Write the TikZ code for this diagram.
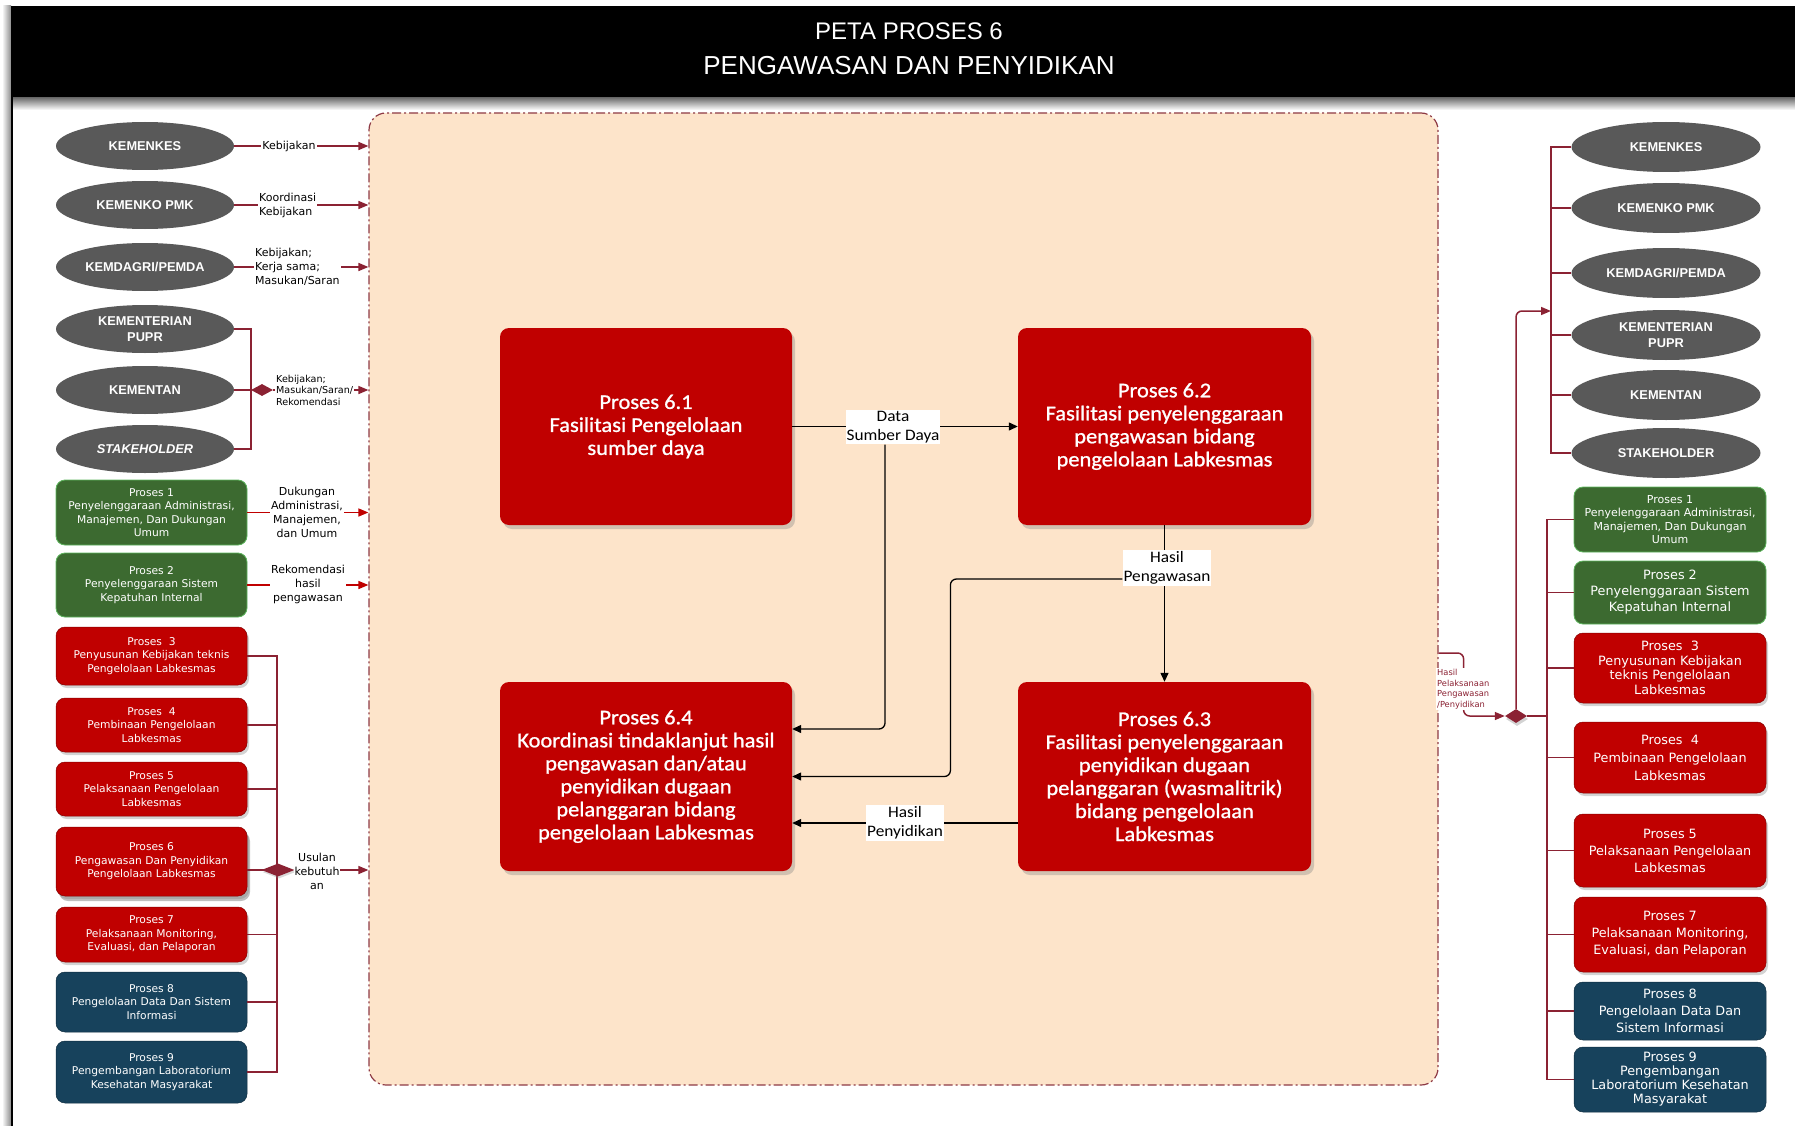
\documentclass[tikz,border=0pt]{standalone}
\usepackage{fontspec}
\setmainfont{Liberation Sans}
\newfontfamily\dejafont{DejaVu Sans}
\newfontfamily\calfont[FakeStretch=1.08]{Carlito}
\newfontfamily\calboxfont[FakeStretch=1.07,FakeBold=1]{Carlito}
\usetikzlibrary{shapes.geometric,arrows.meta,shadows}

\definecolor{panelfill}{HTML}{FDE4CA}
\definecolor{panelline}{HTML}{8E3A45}
\definecolor{linkred}{HTML}{8B2233}
\definecolor{procred}{HTML}{C00000}
\definecolor{procgreen}{HTML}{3C6A30}
\definecolor{greenedge}{HTML}{5DB55D}
\definecolor{procblue}{HTML}{17425C}
\definecolor{ellgray}{HTML}{595959}

\tikzset{
  ext/.style={ellipse, fill=ellgray, text=white, minimum width=178pt, minimum height=48pt,
    inner sep=0pt, align=center, font=\bfseries\fontsize{12.8}{16}\selectfont},
  extr/.style={ext, minimum width=189pt, minimum height=50pt},
  pbox/.style={rounded corners=9pt, inner sep=1pt, align=center, text=white},
  lbox/.style={pbox, minimum width=191pt, font=\dejafont\fontsize{10.7}{13.5}\selectfont},
  rbox/.style={pbox, minimum width=192pt, font=\dejafont\fontsize{12.8}{17}\selectfont},
  gbox/.style={fill=procgreen, draw=greenedge, line width=0.8pt},
  rdbox/.style={fill=procred, draw=procred!70!black, line width=0.5pt,
    drop shadow={shadow xshift=2pt, shadow yshift=-3pt, opacity=0.35}},
  blbox/.style={fill=procblue, draw=procblue!70!black, line width=0.5pt},
  cbox/.style={rounded corners=9pt, fill=procred, text=white, align=center,
    minimum width=292pt, inner sep=2pt, font=\calboxfont\fontsize{21}{23}\selectfont,
    drop shadow={shadow xshift=3pt, shadow yshift=-4pt, opacity=0.35}},
  lab/.style={font=\dejafont\fontsize{11}{14}\selectfont, align=center, fill=white, inner sep=1pt},
  clab/.style={font=\calfont\fontsize{16}{19}\selectfont, align=center, fill=white,
    inner xsep=1pt, inner ysep=1.5pt},
  flow/.style={draw=black, line width=1.3pt, -{Triangle[length=9pt,width=8pt]}},
  marr/.style={draw=linkred, line width=1.5pt, -{Triangle[length=10pt,width=8pt]}},
  rarr/.style={draw=procred, line width=1.5pt, -{Triangle[length=10pt,width=8pt]}},
  mline/.style={draw=linkred, line width=1.5pt},
  joint/.style={diamond, fill=linkred, inner sep=0pt, minimum width=22pt, minimum height=12pt},
}

\begin{document}
\begin{tikzpicture}[x=1pt,y=-1pt]
\useasboundingbox (0,0) rectangle (1795,1126);

% header bar with its shadow and the left page rule
\shade[left color=white, right color=black!45] (2,6) rectangle (11,1126);
\shade[top color=black!60, bottom color=white] (11,97) rectangle (1795,110);
\fill[black] (11,6) rectangle (1795,97);
\draw[black, line width=1.5pt] (12,97) -- (12,1126);
\node[text=white, font=\fontsize{24}{28}\selectfont] (t1) at (909,31) {PETA PROSES 6};
\node[text=white, font=\fontsize{26}{30}\selectfont] (t2) at (909,66) {PENGAWASAN DAN PENYIDIKAN};

% process container
\node[draw=panelline, fill=panelfill, line width=1.2pt,
  dash pattern=on 9pt off 3pt on 2pt off 3pt, rounded corners=17pt,
  minimum width=1069pt, minimum height=972pt, inner sep=0pt] (panel) at (903.5,599) {};

% sub-processes
\node[cbox, minimum height=197pt] (b61) at (646,426.5)
  {Proses 6.1\\Fasilitasi Pengelolaan\\sumber daya};
\node[cbox, minimum height=197pt, minimum width=293pt] (b62) at (1164.5,426.5)
  {Proses 6.2\\Fasilitasi penyelenggaraan\\pengawasan bidang\\pengelolaan Labkesmas};
\node[cbox, minimum height=189pt] (b64) at (646,776.5)
  {Proses 6.4\\Koordinasi tindaklanjut hasil\\pengawasan dan/atau\\penyidikan dugaan\\pelanggaran bidang\\pengelolaan Labkesmas};
\node[cbox, minimum height=189pt, minimum width=293pt] (b63) at (1164.5,776.5)
  {Proses 6.3\\Fasilitasi penyelenggaraan\\penyidikan dugaan\\pelanggaran (wasmalitrik)\\bidang pengelolaan\\Labkesmas};

% left: external parties
\node[ext] (ke1) at (145,146) {KEMENKES};
\node[ext] (ke2) at (145,205) {KEMENKO PMK};
\node[ext] (ke3) at (145,267) {KEMDAGRI/PEMDA};
\node[ext] (ke4) at (145,329) {KEMENTERIAN\\PUPR};
\node[ext] (ke5) at (145,390) {KEMENTAN};
\node[ext] (ke6) at (145,449) {\textit{STAKEHOLDER}};

% left: other processes
\node[lbox, gbox, minimum height=65pt] (p1) at (151.5,512.5)
  {Proses 1\\Penyelenggaraan Administrasi,\\Manajemen, Dan Dukungan\\Umum};
\node[lbox, gbox, minimum height=64pt] (p2) at (151.5,585)
  {Proses 2\\Penyelenggaraan Sistem\\Kepatuhan Internal};
\node[lbox, rdbox, minimum height=58pt] (p3) at (151.5,656)
  {Proses \ 3\\Penyusunan Kebijakan teknis\\Pengelolaan Labkesmas};
\node[lbox, rdbox, minimum height=54pt] (p4) at (151.5,725)
  {Proses \ 4\\Pembinaan Pengelolaan\\Labkesmas};
\node[lbox, rdbox, minimum height=54pt] (p5) at (151.5,789)
  {Proses 5\\Pelaksanaan Pengelolaan\\Labkesmas};
\node[lbox, rdbox, minimum height=69pt,
  drop shadow={shadow xshift=3pt, shadow yshift=-5pt, opacity=0.5}] (p6) at (151.5,861.5)
  {Proses 6\\Pengawasan Dan Penyidikan\\Pengelolaan Labkesmas};
\node[lbox, rdbox, minimum height=55pt] (p7) at (151.5,934.5)
  {Proses 7\\Pelaksanaan Monitoring,\\Evaluasi, dan Pelaporan};
\node[lbox, blbox, minimum height=60pt] (p8) at (151.5,1002)
  {Proses 8\\Pengelolaan Data Dan Sistem\\Informasi};
\node[lbox, blbox, minimum height=62pt] (p9) at (151.5,1072)
  {Proses 9\\Pengembangan Laboratorium\\Kesehatan Masyarakat};

% right: external parties
\node[extr] (re1) at (1666,147) {KEMENKES};
\node[extr] (re2) at (1666,208) {KEMENKO PMK};
\node[extr] (re3) at (1666,273) {KEMDAGRI/PEMDA};
\node[extr] (re4) at (1666,335) {KEMENTERIAN\\PUPR};
\node[extr] (re5) at (1666,395) {KEMENTAN};
\node[extr] (re6) at (1666,453) {STAKEHOLDER};

% right: other processes
\node[rbox, gbox, minimum height=65pt, font=\dejafont\fontsize{11}{13.5}\selectfont] (rp1) at (1670,519.5)
  {Proses 1\\Penyelenggaraan Administrasi,\\Manajemen, Dan Dukungan\\Umum};
\node[rbox, gbox, minimum height=63pt, font=\dejafont\fontsize{12.8}{16}\selectfont] (rp2) at (1670,592.5)
  {Proses 2\\Penyelenggaraan Sistem\\Kepatuhan Internal};
\node[rbox, rdbox, minimum height=70pt, font=\dejafont\fontsize{12.8}{14.5}\selectfont] (rp3) at (1670,668)
  {Proses \ 3\\Penyusunan Kebijakan\\teknis Pengelolaan\\Labkesmas};
\node[rbox, rdbox, minimum height=71pt, font=\dejafont\fontsize{12.8}{18}\selectfont] (rp4) at (1670,757.5)
  {Proses \ 4\\Pembinaan Pengelolaan\\Labkesmas};
\node[rbox, rdbox, minimum height=73pt] (rp5) at (1670,850.5)
  {Proses 5\\Pelaksanaan Pengelolaan\\Labkesmas};
\node[rbox, rdbox, minimum height=75pt] (rp7) at (1670,934.5)
  {Proses 7\\Pelaksanaan Monitoring,\\Evaluasi, dan Pelaporan};
\node[rbox, blbox, minimum height=58pt] (rp8) at (1670,1011)
  {Proses 8\\Pengelolaan Data Dan\\Sistem Informasi};
\node[rbox, blbox, minimum height=65pt, font=\dejafont\fontsize{12.8}{14}\selectfont] (rp9) at (1670,1079.5)
  {Proses 9\\Pengembangan\\Laboratorium Kesehatan\\Masyarakat};

% flows inside the container
\draw[flow] (b61) -- (b62);
\draw[flow] (b62) -- (b63);
\draw[flow] ([yshift=-46.5pt]b63.west) -- ([yshift=-46.5pt]b64.east);

% inputs from the left
\draw[marr] (ke1.east) -- (ke1.east -| panel.west);
\draw[marr] (ke2.east) -- (ke2.east -| panel.west);
\draw[marr] (ke3.east) -- (ke3.east -| panel.west);
\coordinate (bk) at (251,390);
\draw[mline] (ke4.east) -| (bk) |- (ke6.east);
\node[joint] (dk) at (262,390) {};
\draw[mline] (ke5.east) -- (dk.west);
\draw[marr] (dk.east) -- (dk.east -| panel.west);

\draw[rarr] (p1.east) -- (p1.east -| panel.west);
\draw[rarr] (p2.east) -- (p2.east -| panel.west);

\coordinate (bp) at (277,870);
\draw[mline] (p3.east) -| (bp) |- (p9.east);
\foreach \n in {p4,p5,p7,p8} \draw[mline] (\n.east) -- (\n.east -| bp);
\draw[mline] ([yshift=-8.5pt]p6.east) -- (bp);
\node[joint, minimum width=33pt, minimum height=13pt,
  drop shadow={shadow xshift=1pt, shadow yshift=-2pt, opacity=0.3}] (dp) at (278,870) {};
\draw[marr] (dp.east) -- (dp.east -| panel.west);

% outputs to the right
\coordinate (br) at (1551,311);
\coordinate (bq) at (1547,716);
\draw[mline] (re1.west) -| (br) |- (re6.west);
\foreach \n in {re2,re3,re4,re5} \draw[mline] (\n.west) -- (\n.west -| br);
\draw[mline] (rp1.west) -| (bq) |- (rp9.west);
\foreach \n in {rp2,rp3,rp4,rp5,rp7,rp8} \draw[mline] (\n.west) -- (\n.west -| bq);
\node[joint, minimum width=22pt, minimum height=14pt,
  drop shadow={shadow xshift=1pt, shadow yshift=-3pt, opacity=0.35}] (dr) at (1516,716) {};
\draw[mline] (dr.east) -- (bq);
\draw[marr, rounded corners=6pt] (dr.north) |- (br);
\draw[marr, rounded corners=6pt] ([yshift=-54pt]panel.east) -- ++(25,0) |- (dr.west);

% labels on the flows
\node[clab] (ds) at (893,427) {Data\\Sumber Daya};
\node[clab] (hp) at (1167,568) {Hasil\\Pengawasan};
\node[clab] (hs) at (905,823) {Hasil\\Penyidikan};
\draw[flow, rounded corners=6pt] ([xshift=-8pt]ds.south) |- ([yshift=47.5pt]b64.east);
\draw[flow, rounded corners=6pt] ([yshift=-11pt]hp.west) -- ++(-172,0) |- (b64.east);

\node[lab] (l1) at (289,146) {Kebijakan};
\node[lab, align=left, anchor=west] (l2) at (258,205) {Koordinasi\\Kebijakan};
\node[lab, align=left, anchor=west] (l3) at (254,267) {Kebijakan;\\Kerja sama;\\Masukan/Saran};
\node[lab, align=left, anchor=west, font=\dejafont\fontsize{9.6}{11.5}\selectfont] (l4) at (275,390)
  {Kebijakan;\\Masukan/Saran/\\Rekomendasi};
\node[lab] (l5) at (307,512) {Dukungan\\Administrasi,\\Manajemen,\\dan Umum};
\node[lab] (l6) at (308,584) {Rekomendasi\\hasil\\pengawasan};
\node[lab] (l7) at (317,871) {Usulan\\kebutuh\\an};
\node[lab, align=left, anchor=west, text=linkred, font=\dejafont\fontsize{8.3}{10.5}\selectfont] (l8)
  at (1436,689) {Hasil\\Pelaksanaan\\Pengawasan\\/Penyidikan};
\end{tikzpicture}
\end{document}
